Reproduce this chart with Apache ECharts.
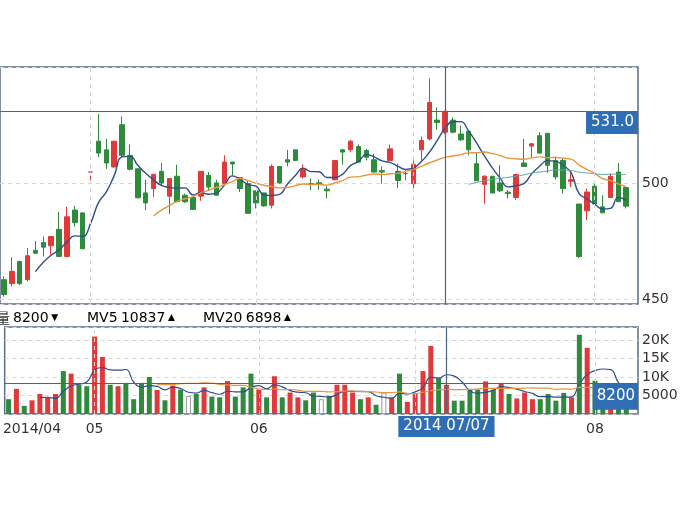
<!DOCTYPE html>
<html><head><meta charset="utf-8">
<script src="https://cdn.jsdelivr.net/npm/echarts@6/dist/echarts.min.js"></script>
<style>html,body{margin:0;padding:0;background:#fff}#c{width:690px;height:520px}</style>
</head><body><div id="c"></div>
<script>
const opens=[458.3,456.6,466.1,458.3,470.9,474.3,472.9,480,468.3,488.3,487.1,504.7,518,514.3,506.9,525.1,511.9,506.1,495.7,497.6,505,494.3,502.9,494.7,493.7,494.3,503.3,500,499.7,509,502.3,499.7,496.6,495.7,490.4,507.1,510,514.3,502.6,499.7,500.1,497.3,501.4,514.3,514.3,515.7,514,510,505.3,509.7,505,504,499.7,514.3,519,527.1,521.9,527.1,521.1,522.3,508.3,499.4,502.9,500,496,493.7,508.6,515.9,520.4,521.4,509.7,509.7,500.7,490.9,488,498.6,489.7,493.7,504.7,498];
const closes=[451.9,461.9,456.6,468.6,469.7,472.3,476.9,468.3,485.4,482.9,471.6,504.7,512.9,508.6,518,511.9,505.9,493.6,491.4,503.7,500,501.9,491.9,491.9,488.6,505,498.3,494.7,509,508.2,497.6,486.9,491.4,490.1,507.1,500,509,509.7,506.1,499.7,499.7,496.6,509.7,513.3,518,509,511.1,504.7,504.7,514.7,501.1,504,508,518.3,534.7,526.1,530.9,521.9,518.6,514.3,500.9,502.9,495.7,496.6,495.4,503.6,507.1,516.9,512.9,507.6,502.6,497.6,501.4,468.3,496.1,490.9,487.1,502.9,491.9,490];
const lows=[451,455.4,456,457.6,469.4,468.3,469,468,468,481.1,471.6,500,511.1,506.1,506.6,511.1,505.4,493.3,488.3,494,499,486.6,491.9,491.4,488.3,492.3,496.9,494.7,499.4,503.3,496.1,486.9,489,489.7,489,499.7,507.1,509.7,501.9,496.9,497,493.3,501.1,507.9,513.3,508.6,509.7,504.7,499.7,509.7,497.9,501.1,496.1,509.7,518.3,522.9,521.1,521.4,518,511.9,500.9,491.1,495.4,496.1,493.3,492.6,506.9,510.9,512.6,504.3,501.4,495.4,498.3,467.6,484,490.9,487.1,493.7,491.9,489];
const highs=[459.7,468,466.6,471.9,475,476.9,477.1,487.6,489.7,490.1,487.1,504.7,529.7,519,518,528.7,516.6,506.1,501.4,504,508.6,501.9,507.9,495.4,493.7,505,504.7,501.4,511.9,509,502.3,501.1,496.6,495.7,508,507.1,514.3,514.3,508,501.9,501.5,499,509.7,514.7,518.6,516.6,514.7,512.6,507.1,516.6,508.3,505.4,509.7,520,545.1,532.6,530.9,528.3,524.7,522.6,512.9,503.3,502.9,507.6,496.9,504,519,516.9,521.9,521.4,511.4,510.4,504.7,490.9,497.6,499.7,494.7,504,508.6,498];
const volumes=[4000,6800,2200,3700,5400,4500,5400,11600,10900,7900,7500,20900,15400,7900,7500,8400,4000,8400,10000,6500,3700,7700,6600,4900,5400,7200,4700,4500,8900,4700,7200,10900,6600,4500,10200,4500,5800,4500,3700,5800,4000,4900,7900,7900,5800,4000,4500,2500,5800,4500,10900,3300,5400,11600,18400,9700,7900,3600,3600,6600,6600,8800,6600,8400,5400,4200,5800,4000,4000,5400,3600,5700,4500,21400,17900,9000,8000,3700,3900,8200];
const monthStarts=[11,32,52,75];
const monthLabels={3:'2014/04',11:'05',32:'06',75:'08'};
const crossIndex=56, crossPrice=531.0, crossVol=8200;

const N=opens.length;
const cats=[];for(let i=0;i<=N;i++)cats.push('d'+i);
const candles=opens.map((o,i)=>[o,closes[i],lows[i],highs[i]]);
candles.push('-');
function ma(arr,n){return arr.map((v,i)=>{if(i<n-1)return '-';let s=0;for(let k=i-n+1;k<=i;k++)s+=arr[k];return +(s/n).toFixed(2);});}
const RED='#e0393a',GREEN='#2e8b3c';
const volData=volumes.map((v,i)=>{
  const prev=i>0?closes[i-1]:opens[i];
  let c=closes[i]>prev?RED:closes[i]<prev?GREEN:'#fff';
  return {value:v,itemStyle:{color:c,borderColor:c==='#fff'?'#999':c,borderWidth:c==='#fff'?1:0}};
});
const vLineStyle={type:[4,4],color:'#d8d8d8',width:1};
const gridLineData=monthStarts.map(m=>({xAxis:m,lineStyle:vLineStyle,label:{show:false}}));
const empty=cats.map(()=>'-');
const CROSS='#4a6580',LBL='#2f6db5';
const fnt='DejaVu Sans';
const option={
  animation:false,
  grid:[{left:-2,top:67,width:640,height:237,show:true,borderColor:'#5a6e82',borderWidth:1.5},
        {left:-2,top:327,width:640,height:87,show:true,borderColor:'#5a6e82',borderWidth:1.5}],
  xAxis:[{type:'category',data:cats,gridIndex:0,axisLine:{show:false},axisTick:{show:false},axisLabel:{show:false},splitLine:{show:false}},
         {type:'category',data:cats,gridIndex:1,axisLine:{show:false},axisTick:{show:false},splitLine:{show:false},
          axisLabel:{interval:(i)=>monthLabels[i]!==undefined,formatter:(v,i)=>monthLabels[i]||'',color:'#333',fontSize:14,fontFamily:fnt,margin:8}}],
  yAxis:[{type:'value',gridIndex:0,position:'right',min:447.8,max:550,splitNumber:2,scale:true,
          axisLine:{show:false},axisTick:{show:false},
          axisLabel:{color:'#333',fontSize:14,fontFamily:fnt,showMinLabel:false,showMaxLabel:false,margin:4,
            formatter:v=>(Math.abs(v%50)<0.01)?String(v):''},
          splitLine:{lineStyle:{type:[4,4],color:'#d8d8d8'}}},
         {type:'value',gridIndex:1,position:'right',min:0,max:23500,interval:5000,
          axisLine:{show:false},axisTick:{show:false},
          axisLabel:{color:'#333',fontSize:14,fontFamily:fnt,showMinLabel:false,showMaxLabel:false,margin:4,
            formatter:v=>v>=10000?(v/1000)+'K':String(v)},
          splitLine:{lineStyle:{type:[4,4],color:'#d8d8d8'}}}],
  series:[
    {type:'line',xAxisIndex:0,yAxisIndex:0,data:empty,z:0,silent:true,markLine:{silent:true,symbol:'none',animation:false,data:gridLineData}},
    {type:'line',xAxisIndex:1,yAxisIndex:1,data:empty,z:0,silent:true,markLine:{silent:true,symbol:'none',animation:false,data:gridLineData}},
    {type:'candlestick',xAxisIndex:0,yAxisIndex:0,data:candles,barWidth:5,z:2,
     itemStyle:{color:RED,color0:GREEN,borderColor:RED,borderColor0:GREEN,borderWidth:1},
     markLine:{silent:true,symbol:'none',animation:false,data:[
       {xAxis:crossIndex,lineStyle:{color:CROSS,width:1.2,type:'solid'},label:{show:false}},
       {yAxis:crossPrice,lineStyle:{color:CROSS,width:1.2,type:'solid'},
        label:{show:true,position:'insideEndBottom',formatter:'531.0',color:'#fff',backgroundColor:LBL,fontSize:15,fontFamily:fnt,padding:[4,4,4,5],distance:[0,0]}}]}},
    {type:'line',xAxisIndex:0,yAxisIndex:0,data:ma(closes,5),showSymbol:false,smooth:true,lineStyle:{color:'#2d4f8e',width:1.4},z:3},
    {type:'line',xAxisIndex:0,yAxisIndex:0,data:ma(closes,20),showSymbol:false,smooth:true,lineStyle:{color:'#e8963e',width:1.4},z:3},
    {type:'line',xAxisIndex:0,yAxisIndex:0,data:ma(closes,60),showSymbol:false,smooth:true,lineStyle:{color:'#5aa6a0',width:1},z:3},
    {type:'bar',xAxisIndex:1,yAxisIndex:1,data:volData,barWidth:5,z:2,
     markLine:{silent:true,symbol:'none',animation:false,data:[
       {xAxis:crossIndex,lineStyle:{color:CROSS,width:1.2,type:'solid'},
        label:{show:true,position:'start',formatter:'2014 07/07',color:'#fff',backgroundColor:LBL,fontSize:15,fontFamily:fnt,padding:[3,5,3,5],distance:2}},
       {yAxis:crossVol,lineStyle:{color:CROSS,width:1.2,type:'solid'},
        label:{show:true,position:'insideEndBottom',formatter:'8200',color:'#fff',backgroundColor:LBL,fontSize:15,fontFamily:fnt,padding:[5,3,6,4],distance:[0,0]}}]}},
    {type:'line',xAxisIndex:1,yAxisIndex:1,data:ma(volumes,5),showSymbol:false,smooth:true,lineStyle:{color:'#2d4f8e',width:1.2},z:3},
    {type:'line',xAxisIndex:1,yAxisIndex:1,data:ma(volumes,20),showSymbol:false,smooth:true,lineStyle:{color:'#e8963e',width:1.2},z:3}
  ],
  graphic:[
    {type:'text',left:-4,top:311,style:{text:'量',fontSize:14,fontFamily:'Noto Sans CJK SC',fill:'#333'}},
    {type:'text',left:13,top:311,style:{text:'{a|8200}{g|▼}',rich:{a:{fontSize:14,fontFamily:fnt,color:'#333'},g:{fontSize:12,color:GREEN}}}},
    {type:'text',left:87,top:311,style:{text:'{b|MV5} {a|10837}{r|▲}',rich:{b:{fontSize:14,fontFamily:fnt,color:'#3b5a9a'},a:{fontSize:14,fontFamily:fnt,color:'#333'},r:{fontSize:12,color:RED}}}},
    {type:'text',left:203,top:311,style:{text:'{o|MV20} {a|6898}{r|▲}',rich:{o:{fontSize:14,fontFamily:fnt,color:'#e0862a'},a:{fontSize:14,fontFamily:fnt,color:'#333'},r:{fontSize:12,color:RED}}}}
  ]
};
echarts.init(document.getElementById('c')).setOption(option);
</script></body></html>
